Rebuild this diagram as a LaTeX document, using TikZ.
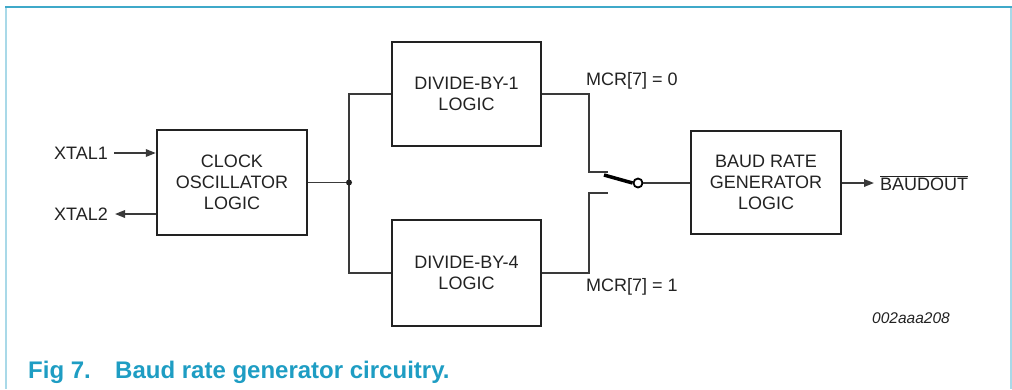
\documentclass[tikz,border=0pt]{standalone}
\usepackage{fontspec}
\setmainfont{Liberation Sans}
\usetikzlibrary{arrows.meta}
\definecolor{frameteal}{HTML}{3FA9C9}
\definecolor{framelight}{HTML}{A9D9E8}
\definecolor{captionteal}{HTML}{1E9DC3}
\definecolor{ink}{HTML}{222222}
\definecolor{wire}{HTML}{3A3A3A}
\begin{document}
\begin{tikzpicture}[x=1pt,y=-1pt,
  blk/.style={draw=ink,line width=2.4pt,align=center,inner sep=0pt,
    font=\fontsize{18}{21}\selectfont,text=ink},
  lbl/.style={inner sep=0pt,font=\fontsize{18}{21}\selectfont,text=ink},
  wireline/.style={draw=wire,line width=1.7pt},
  arr/.style={wireline,-{Triangle[length=10pt,width=7.5pt]}},
  blade/.style={draw=black,line width=3.5pt},
  capt/.style={inner sep=0pt,font=\fontsize{24}{28}\selectfont\bfseries,text=captionteal,anchor=west}]
\useasboundingbox (0,0) rectangle (1012,389);
% frame
\draw[framelight,line width=1.2pt] (6,7) -- (6,389);
\draw[framelight,line width=1.2pt] (1011,7) -- (1011,389);
\draw[frameteal,line width=2.2pt] (5.4,7) -- (1012,7);
% blocks
\node[blk,minimum width=150pt,minimum height=105pt] (clk) at (232,182.5) {CLOCK\\OSCILLATOR\\LOGIC};
\node[blk,minimum width=149pt,minimum height=104pt] (d1) at (466.5,94) {DIVIDE-BY-1\\LOGIC};
\node[blk,minimum width=149pt,minimum height=106pt] (d4) at (466.5,273) {DIVIDE-BY-4\\LOGIC};
\node[blk,minimum width=150pt,minimum height=103pt] (baud) at (766,182.5) {BAUD RATE\\GENERATOR\\LOGIC};
% inputs
\node[lbl,anchor=east] (x1) at (108,153) {XTAL1};
\node[lbl,anchor=east] (x2) at (108,214) {XTAL2};
\coordinate (x1e) at (114,153);
\coordinate (x2e) at (115,214);
\draw[arr] (x1e) -- (clk.west |- x1e);
\draw[arr] (clk.west |- x2e) -- (x2e);
% junction
\coordinate (j) at (349,182.5);
\draw[wireline] (clk.east) -- (j);
\draw[wireline] (d1.west) -| (j) |- (d4.west);
\fill[ink] (j) circle (3pt);
% switch contacts
\coordinate (k1) at (589,172);
\coordinate (c1) at (608,172);
\coordinate (k2) at (589,193);
\coordinate (c2) at (608,193);
\draw[wireline] (d1.east) -| (k1) -- (c1);
\draw[wireline] (d4.east) -| (k2) -- (c2);
\node[draw=black,line width=1.8pt,circle,minimum size=9pt,inner sep=0pt,fill=white] (sw) at (638,183) {};
\coordinate (bs) at (604,175);
\draw[blade] (bs) -- (sw.west);
\draw[wireline] (sw.east) -- (baud.west |- sw.east);
% output
\coordinate (oe) at (874,183);
\draw[arr] (baud.east |- oe) -- (oe);
\node[lbl,anchor=west] (bo) at (880,183) {$\overline{\hbox{BAUDOUT}}$};
% labels
\node[lbl,anchor=west] (m0) at (586,81) {MCR[7] = 0};
\node[lbl,anchor=west] (m1) at (586,287) {MCR[7] = 1};
\node[inner sep=0pt,anchor=east,font=\fontsize{15.5}{18}\selectfont\itshape,text=ink] (id) at (950,318) {002aaa208};
% caption
\node[capt] (cap1) at (28,372) {Fig 7.};
\node[capt] (cap2) at (115,372) {Baud rate generator circuitry.};
\end{tikzpicture}
\end{document}
